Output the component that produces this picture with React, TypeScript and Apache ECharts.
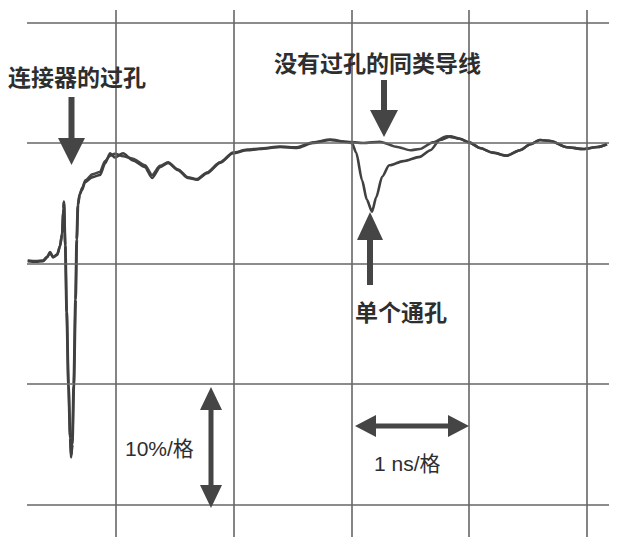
import React, { useEffect, useRef } from "react";
import * as echarts from "echarts";

// Time in ns (vertical grid lines at integer ns), amplitude in % (10 %/div)
const gridXLines = [0, 1, 2, 3, 4];
const gridYLines = [10, 0, -10, -20, -30];

const withVia: [number, number][] = [
  [-0.75, -9.8], [-0.68, -9.85], [-0.62, -9.8], [-0.585, -9.5], [-0.56, -9.1], [-0.535, -9.5],
  [-0.5, -9.3], [-0.476, -8.6], [-0.458, -7.6], [-0.447, -5.5], [-0.442, -4.9], [-0.432, -8.5],
  [-0.42, -14], [-0.405, -20], [-0.39, -24.5], [-0.382, -26.1], [-0.372, -25], [-0.36, -20],
  [-0.345, -13], [-0.335, -8], [-0.325, -5.2], [-0.31, -4.3], [-0.289, -3.9], [-0.263, -3.25],
  [-0.204, -2.85], [-0.136, -2.65], [-0.093, -1.7], [-0.05, -0.85], [-0.01, -1.2], [0.06, -0.85],
  [0.144, -1.45], [0.246, -2.0], [0.306, -2.9], [0.374, -2.0], [0.442, -1.65], [0.527, -2.25],
  [0.611, -2.9], [0.688, -3.05], [0.773, -2.5], [0.883, -1.65], [0.994, -0.85], [1.113, -0.6],
  [1.223, -0.5], [1.393, -0.33], [1.537, -0.4], [1.673, 0.0], [1.817, 0.25], [1.96, 0.08],
  [2.004, 0.0], [2.04, -0.8], [2.09, -3.1], [2.13, -4.7], [2.174, -5.7], [2.21, -4.5],
  [2.26, -2.8], [2.32, -1.85], [2.44, -1.5], [2.58, -1.15], [2.67, -0.6], [2.75, 0.25],
  [2.84, 0.55], [2.92, 0.35], [3.0, 0.05], [3.09, -0.41], [3.2, -0.8], [3.32, -1.05],
  [3.43, -0.6], [3.52, -0.1], [3.6, 0.25], [3.69, 0.17], [3.83, -0.35], [3.97, -0.5],
  [4.09, -0.33], [4.17, -0.1],
];

const withoutVia: [number, number][] = [
  [-0.75, -9.75], [-0.68, -9.8], [-0.62, -9.75], [-0.585, -9.45], [-0.56, -9.05], [-0.535, -9.45],
  [-0.5, -9.25], [-0.476, -8.55], [-0.458, -7.5], [-0.447, -5.4], [-0.442, -4.85], [-0.43, -8.5],
  [-0.418, -14], [-0.403, -20], [-0.388, -24.5], [-0.38, -25.9], [-0.37, -25], [-0.357, -20],
  [-0.342, -13], [-0.332, -8], [-0.322, -5.1], [-0.307, -4.2], [-0.286, -3.7], [-0.26, -3.1],
  [-0.2, -2.6], [-0.136, -2.4], [-0.093, -1.5], [-0.05, -1.05], [-0.01, -0.9], [0.06, -1.1],
  [0.144, -1.3], [0.246, -1.85], [0.306, -2.65], [0.374, -1.9], [0.442, -1.6], [0.527, -2.2],
  [0.611, -2.85], [0.688, -3.0], [0.773, -2.45], [0.883, -1.6], [0.994, -0.8], [1.113, -0.55],
  [1.223, -0.45], [1.393, -0.3], [1.537, -0.35], [1.673, 0.05], [1.817, 0.28], [1.96, 0.1],
  [2.1, 0.0], [2.24, 0.1], [2.39, -0.33], [2.5, -0.6], [2.58, -0.5], [2.69, 0.05],
  [2.81, 0.55], [2.92, 0.35], [3.0, 0.05], [3.09, -0.41], [3.2, -0.8], [3.32, -1.05],
  [3.43, -0.6], [3.52, -0.1], [3.6, 0.25], [3.69, 0.17], [3.83, -0.35], [3.97, -0.5],
  [4.09, -0.33], [4.17, -0.1],
];

const labelConnector = "连接器的过孔";
const labelNoVia = "没有过孔的同类导线";
const labelSingleVia = "单个通孔";
const labelVScale = "10%/格";
const labelHScale = "1 ns/格";

const ARROW = "#454545";
const TEXT = "#2e2e2e";
const CJK = "'Noto Sans CJK SC', 'Noto Sans', sans-serif";
const LATIN = "'Liberation Sans', Arial, 'Noto Sans CJK SC', sans-serif";

function downArrow(x: number, yTop: number, yBase: number, yTip: number, half: number, shaft: number) {
  return {
    type: "polygon",
    shape: {
      points: [
        [x - shaft, yTop], [x + shaft, yTop], [x + shaft, yBase], [x + half, yBase],
        [x, yTip], [x - half, yBase], [x - shaft, yBase],
      ],
    },
    style: { fill: ARROW },
    z: 10,
  };
}

function upArrow(x: number, yBottom: number, yBase: number, yTip: number, half: number, shaft: number) {
  return {
    type: "polygon",
    shape: {
      points: [
        [x - shaft, yBottom], [x + shaft, yBottom], [x + shaft, yBase], [x + half, yBase],
        [x, yTip], [x - half, yBase], [x - shaft, yBase],
      ],
    },
    style: { fill: ARROW },
    z: 10,
  };
}

function vDouble(x: number, y1: number, y2: number, head: number, half: number, shaft: number) {
  return {
    type: "polygon",
    shape: {
      points: [
        [x, y1], [x + half, y1 + head], [x + shaft, y1 + head], [x + shaft, y2 - head],
        [x + half, y2 - head], [x, y2], [x - half, y2 - head], [x - shaft, y2 - head],
        [x - shaft, y1 + head], [x - half, y1 + head],
      ],
    },
    style: { fill: ARROW },
    z: 10,
  };
}

function hDouble(y: number, x1: number, x2: number, head: number, half: number, shaft: number) {
  return {
    type: "polygon",
    shape: {
      points: [
        [x1, y], [x1 + head, y - half], [x1 + head, y - shaft], [x2 - head, y - shaft],
        [x2 - head, y - half], [x2, y], [x2 - head, y + half], [x2 - head, y + shaft],
        [x1 + head, y + shaft], [x1 + head, y + half],
      ],
    },
    style: { fill: ARROW },
    z: 10,
  };
}

function label(text: string, x: number, y: number, size: number, family: string, weight: string) {
  return {
    type: "text",
    x,
    y,
    style: {
      text,
      fill: TEXT,
      font: `${weight} ${size}px ${family}`,
      verticalAlign: "middle",
      align: "left",
    },
    z: 10,
  };
}

export default function App() {
  const ref = useRef<HTMLDivElement>(null);

  useEffect(() => {
    if (!ref.current) return;
    const chart = echarts.init(ref.current, undefined, { renderer: "svg" });
    const gridLine = { color: "#666666", width: 1.6, type: "solid" };
    chart.setOption({
      animation: false,
      backgroundColor: "#ffffff",
      grid: { left: 27, right: 18, top: 10, bottom: 9 },
      xAxis: {
        type: "value",
        min: -0.756,
        max: 4.187,
        show: false,
        splitLine: { show: false },
      },
      yAxis: {
        type: "value",
        min: -32.7,
        max: 11.04,
        show: false,
        splitLine: { show: false },
      },
      series: [
        {
          type: "line",
          name: "grid",
          data: [],
          z: 1,
          silent: true,
          markLine: {
            silent: true,
            symbol: "none",
            label: { show: false },
            lineStyle: gridLine,
            data: [
              ...gridXLines.map((v) => ({ xAxis: v })),
              ...gridYLines.map((v) => ({ yAxis: v })),
            ],
          },
        },
        {
          type: "line",
          name: "without via",
          data: withoutVia,
          showSymbol: false,
          smooth: 0.25,
          smoothMonotone: "x",
          lineStyle: { color: "#474747", width: 2.6 },
          z: 3,
        },
        {
          type: "line",
          name: "with via",
          data: withVia,
          showSymbol: false,
          smooth: 0.25,
          smoothMonotone: "x",
          lineStyle: { color: "#404040", width: 2.6 },
          z: 4,
        },
      ],
      graphic: [
        label(labelConnector, 8, 76, 23, CJK, "bold"),
        downArrow(71.5, 97, 138, 165, 13.5, 3),
        label(labelNoVia, 274, 62, 23, CJK, "bold"),
        downArrow(384, 80, 110, 137, 14, 3),
        upArrow(370, 285, 240, 212, 13, 3),
        label(labelSingleVia, 355, 311, 23, CJK, "bold"),
        vDouble(211, 387, 508, 23, 11, 2.5),
        label(labelVScale, 125, 448, 21, LATIN, "normal"),
        hDouble(426, 355, 469, 21, 11, 2.5),
        label(labelHScale, 374, 463, 21, LATIN, "normal"),
      ],
    });
    return () => chart.dispose();
  }, []);

  return (
    <div
      ref={ref}
      style={{ position: "fixed", left: 0, top: 0, width: 627, height: 546, background: "#fff" }}
    />
  );
}
